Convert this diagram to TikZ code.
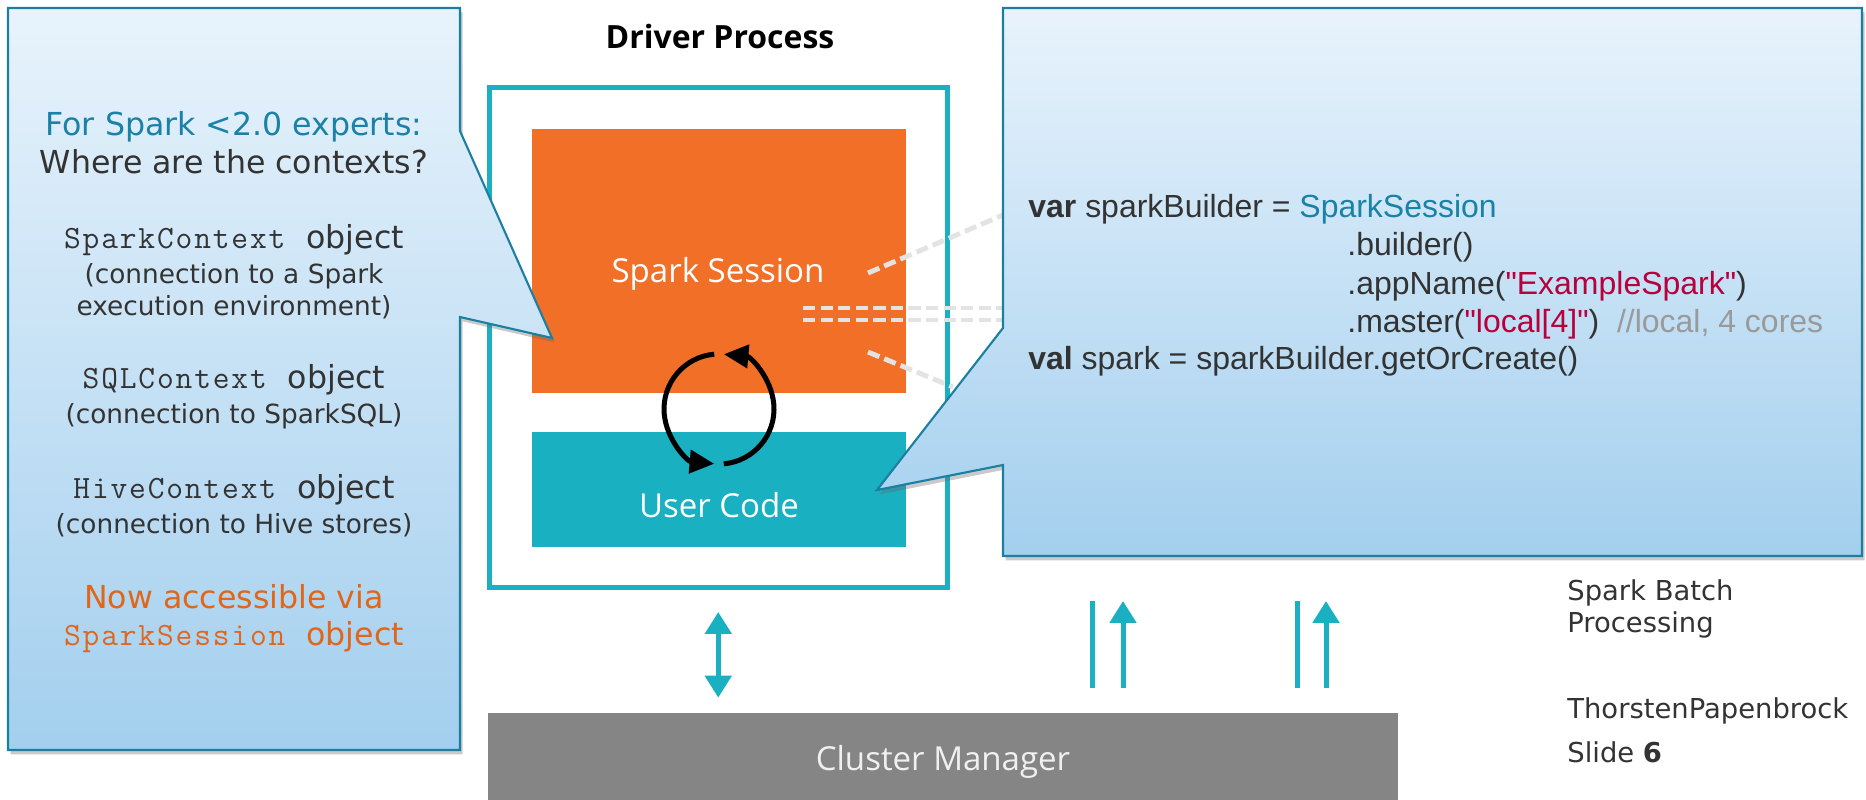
\documentclass[tikz,border=0pt]{standalone}
\usepackage{fontspec}
\setmainfont{DejaVu Sans}
\newfontfamily\codemono{Latin Modern Mono}[LetterSpace=5.7]
\newfontfamily\opensans{Open Sans}
\newfontfamily\arialfont{Liberation Sans}
\usetikzlibrary{arrows.meta,fit,shadows}
\definecolor{sparkorange}{HTML}{F26F27}
\definecolor{sparkteal}{HTML}{19B0C1}
\definecolor{cmgray}{HTML}{858585}
\definecolor{calloutline}{HTML}{1A7FA0}
\definecolor{callouttop}{HTML}{E8F3FC}
\definecolor{calloutbot}{HTML}{A3CFEE}
\definecolor{headblue}{HTML}{1A82A6}
\definecolor{noworange}{HTML}{E2661A}
\definecolor{strred}{HTML}{B8003C}
\definecolor{cmtgray}{HTML}{9A9A9A}
\definecolor{txtgray}{HTML}{333333}
\definecolor{dashgray}{HTML}{E3E3E3}
\newcommand\bigtxt{\fontsize{18}{22}\selectfont}
\newcommand\smalltxt{\fontsize{15}{18}\selectfont}
\newcommand\codetxt{\arialfont\fontsize{18.2}{22}\selectfont}
\newcommand\objname[1]{{\codemono\fontsize{18.5}{22}\selectfont #1}\hspace{0.42cm}}

\begin{document}
\begin{tikzpicture}[x=0.02cm, y=-0.02cm, % 1単位 = 1px、y軸は下向き
  drvbox/.style={draw=sparkteal, line width=2.85pt, inner sep=0pt},
  sessbox/.style={fill=sparkorange, inner sep=0pt},
  codebox/.style={fill=sparkteal, inner sep=0pt},
  cmbox/.style={fill=cmgray, inner sep=0pt},
  boxtext/.style={text=white, inner sep=0pt, font=\opensans\fontsize{18.8}{22}\selectfont},
  callout/.style={draw=calloutline, line width=1.2pt, top color=callouttop, bottom color=calloutbot,
    drop shadow={shadow xshift=1.5pt, shadow yshift=-2.5pt, opacity=.35, fill=black!60}},
  lefttext/.style={text=txtgray, inner sep=0pt, anchor=base},
  codeline/.style={text=txtgray, inner sep=0pt, anchor=base west, font=\codetxt},
  sidetext/.style={text=txtgray, inner sep=0pt, anchor=base west, font=\fontsize{15.6}{18}\selectfont},
  cycarrow/.style={line width=2.85pt, -{Triangle[length=14pt,width=13pt]}},
  uparrow/.style={draw=sparkteal, line width=2.85pt, -{Triangle[length=12.5pt,width=14.8pt]}},
  upline/.style={draw=sparkteal, line width=2.85pt},
  biarrow/.style={draw=sparkteal, line width=2.85pt, {Triangle[length=12.5pt,width=14.8pt]}-{Triangle[length=12.5pt,width=14.8pt]}},
  dashlink/.style={draw=dashgray, line width=2.8pt, dash pattern=on 7pt off 3pt}]
  \useasboundingbox (0,0) rectangle (1866,799); % 画像サイズ

  % Driver Process
  \node[drvbox, fit={(489,87.5) (947.5,587.5)}] (driver) {};
  \node[sessbox, fit={(532,129) (906,393)}] (session) {};
  \node[codebox, fit={(532,432) (906,547)}] (usercode) {};
  \node[boxtext, anchor=base] (sesstext) at (718,282) {Spark Session};
  \node[boxtext, anchor=base] (codetext) at (719,517) {User Code};
  \node[anchor=base, inner sep=0pt, font=\opensans\bfseries\fontsize{18.2}{22}\selectfont] (drivertitle) at (720,48) {Driver Process};

  % 循環矢印
  \draw[cycarrow] (714.2,354.2) arc[start angle=95, end angle=265, radius=1.1cm];
  \draw[cycarrow] (723.8,463.8) arc[start angle=-85, end angle=85, radius=1.1cm];

  % 点線 (Spark Session -> コード)
  \coordinate (s1) at (868,273); \coordinate (c1) at (1003,215);
  \coordinate (s2) at (803,308); \coordinate (c2) at (1003,308);
  \coordinate (s3) at (803,320); \coordinate (c3) at (1003,320);
  \coordinate (s4) at (868,352); \coordinate (c4) at (953,387);
  \draw[dashlink] (s1) -- (c1);
  \draw[dashlink] (s2) -- (c2);
  \draw[dashlink] (s3) -- (c3);
  \draw[dashlink] (s4) -- (c4);

  % Cluster Manager
  \node[cmbox, fit={(488,713) (1398,805)}] (cluster) {};
  \node[boxtext, anchor=base, text=white!94!black] (cmtext) at (943,770) {Cluster Manager};
  \draw[biarrow, shorten <=0.44cm, shorten >=0.3cm] (driver.south) -- (driver.south |- cluster.north);
  \coordinate (in1) at (1092,601); \coordinate (in2) at (1123,601);
  \coordinate (in3) at (1297,601); \coordinate (in4) at (1326,601);
  \draw[upline, shorten <=0.5cm] (cluster.north -| in1) -- (in1);
  \draw[uparrow, shorten <=0.5cm] (cluster.north -| in2) -- (in2);
  \draw[upline, shorten <=0.5cm] (cluster.north -| in3) -- (in3);
  \draw[uparrow, shorten <=0.5cm] (cluster.north -| in4) -- (in4);

  % 吹き出し (左)
  \draw[callout] (8,8) -- (460,8) -- (460,131) -- (552,338) -- (460,317) -- (460,750) -- (8,750) -- cycle;
  \node[lefttext, font=\bigtxt, text=headblue] (l1) at (234,135) {For Spark <2.0 experts:};
  \node[lefttext, font=\bigtxt] (l2) at (234,173) {Where are the contexts?};
  \node[lefttext, font=\bigtxt] (l3) at (234,248) {\objname{SparkContext}object};
  \node[lefttext, font=\smalltxt] (l4) at (234,283) {(connection to a Spark};
  \node[lefttext, font=\smalltxt] (l5) at (234,315) {execution environment)};
  \node[lefttext, font=\bigtxt] (l6) at (234,388) {\objname{SQLContext}object};
  \node[lefttext, font=\smalltxt] (l7) at (234,423) {(connection to SparkSQL)};
  \node[lefttext, font=\bigtxt] (l8) at (234,498) {\objname{HiveContext}object};
  \node[lefttext, font=\smalltxt] (l9) at (234,533) {(connection to Hive stores)};
  \node[lefttext, font=\bigtxt, text=noworange] (l10) at (234,608) {Now accessible via};
  \node[lefttext, font=\bigtxt, text=noworange] (l11) at (234,645) {\objname{SparkSession}object};

  % 吹き出し (右)
  \draw[callout] (1003,8) -- (1862,8) -- (1862,556) -- (1003,556) -- (1003,465) -- (877,490) -- (1003,328) -- cycle;
  \node[codeline] (k1) at (1028,217) {\textbf{var} sparkBuilder = {\color{headblue}SparkSession}};
  \node[codeline] (k2) at (1347,255) {.builder()};
  \node[codeline] (k3) at (1347,294) {.appName({\color{strred}"ExampleSpark"})};
  \node[codeline] (k4) at (1347,332) {.master({\color{strred}"local[4]"})\ \ {\color{cmtgray}//local, 4 cores}};
  \node[codeline] (k5) at (1028,369) {\textbf{val} spark = sparkBuilder.getOrCreate()};

  % 右下の文字
  \node[sidetext] (side1) at (1567,600) {Spark Batch};
  \node[sidetext] (side2) at (1567,632) {Processing};
  \node[sidetext] (side3) at (1567,718) {ThorstenPapenbrock};
  \node[sidetext] (side4) at (1567,762) {Slide \textbf{6}};
\end{tikzpicture}
\end{document}
